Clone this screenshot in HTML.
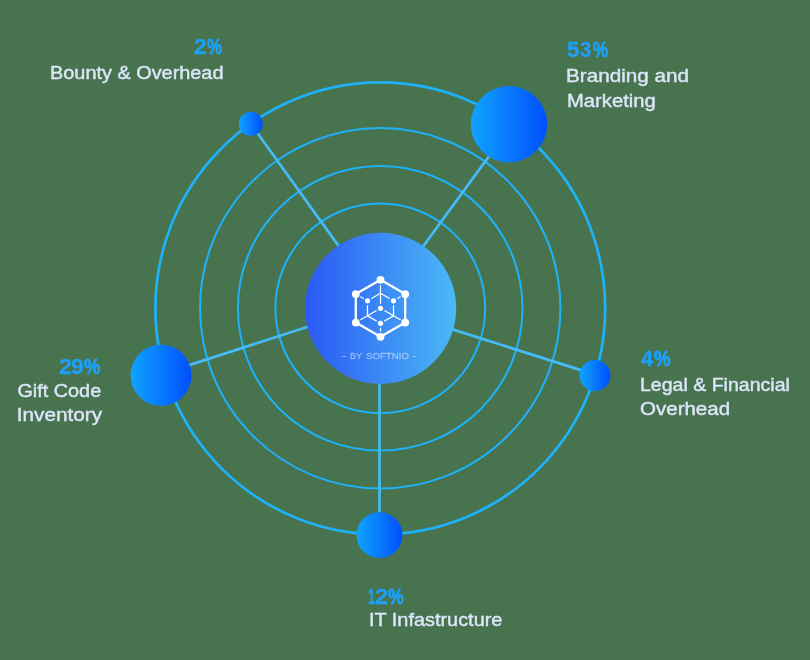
<!DOCTYPE html>
<html>
<head>
<meta charset="utf-8">
<style>
html,body{margin:0;padding:0;}
body{width:810px;height:660px;background:#48734f;position:relative;overflow:hidden;font-family:"Liberation Sans",sans-serif;}
svg{position:absolute;left:0;top:0;}
.pct{position:absolute;transform-origin:0 0;-webkit-text-stroke:0.3px #1ea0f7;font-weight:700;font-size:22px;line-height:24px;color:#1ea0f7;white-space:nowrap;}
.lbl{position:absolute;font-size:18.5px;-webkit-text-stroke:0.4px #dde6fa;line-height:24px;color:#dde6fa;white-space:nowrap;transform-origin:0 0;}
.rr{transform-origin:100% 0;}
.pc{-webkit-text-stroke:0.8px #1ea0f7;}
.r{text-align:right;}
.by{position:absolute;font-size:9.8px;font-weight:400;line-height:12px;color:rgba(255,255,255,0.36);-webkit-text-stroke:0.35px rgba(255,255,255,0.36);white-space:nowrap;transform-origin:0 0;}
</style>
</head>
<body>
<svg width="810" height="660" viewBox="0 0 810 660">
  <defs>
    <linearGradient id="gc" x1="0" y1="0" x2="1" y2="0">
      <stop offset="0" stop-color="#2b58f5"/>
      <stop offset="1" stop-color="#4bb9f5"/>
    </linearGradient>
    <linearGradient id="gb" x1="0" y1="0" x2="1" y2="0">
      <stop offset="0" stop-color="#10a4fe"/>
      <stop offset="1" stop-color="#004ffd"/>
    </linearGradient>
  </defs>
  <g fill="none" stroke="#1db2fa" stroke-width="2.05">
    <ellipse cx="380.3" cy="308.3" rx="224.9" ry="226" stroke-width="2.7"/>
    <circle cx="380.25" cy="308.3" r="180.2"/>
    <circle cx="380.2" cy="308.3" r="142.3"/>
    <circle cx="380.3" cy="308.3" r="104.9"/>
  </g>
  <g stroke="#45bcf8" stroke-width="2.7">
    <line x1="383.2" y1="308" x2="250.8" y2="123.8"/>
    <line x1="378.1" y1="308" x2="512.4" y2="124.2"/>
    <line x1="380" y1="306.4" x2="595" y2="374.6"/>
    <line x1="379.5" y1="308" x2="379.5" y2="535"/>
    <line x1="380" y1="303.5" x2="161" y2="374.2"/>
  </g>
  <circle cx="380.6" cy="308.3" r="75.6" fill="url(#gc)"/>
  <circle cx="250.8" cy="123.8" r="12" fill="url(#gb)"/>
  <circle cx="509" cy="124.2" r="38.2" fill="url(#gb)"/>
  <circle cx="595" cy="375.5" r="15.5" fill="url(#gb)"/>
  <circle cx="379.5" cy="535.1" r="23" fill="url(#gb)"/>
  <circle cx="161" cy="375.3" r="30.5" fill="url(#gb)"/>
  <!-- icon -->
  <defs>
    <mask id="im" maskUnits="userSpaceOnUse" x="340" y="270" width="80" height="80">
      <rect x="340" y="270" width="80" height="80" fill="#fff"/>
      <g fill="#000" transform="translate(380.5 308.3)">
        <circle cx="0" cy="-28.5" r="5.4"/>
        <circle cx="24.7" cy="-14.25" r="5.4"/>
        <circle cx="24.7" cy="14.25" r="5.4"/>
        <circle cx="0" cy="28.5" r="5.4"/>
        <circle cx="-24.7" cy="14.25" r="5.4"/>
        <circle cx="-24.7" cy="-14.25" r="5.4"/>
        <circle cx="-13" cy="-7.5" r="4.4"/>
        <circle cx="13" cy="-7.5" r="4.4"/>
        <circle cx="0" cy="0" r="4.6"/>
        <circle cx="0" cy="15" r="4.4"/>
      </g>
    </mask>
  </defs>
  <g transform="translate(380.5 308.3)" stroke="#fff" fill="none">
    <polygon points="0,-28.5 24.7,-14.25 24.7,14.25 0,28.5 -24.7,14.25 -24.7,-14.25" stroke-width="2.3" stroke-linejoin="round"/>
  </g>
  <g mask="url(#im)">
   <g transform="translate(380.5 308.3)" stroke="#fff" fill="none" stroke-width="1.25">
      <polygon points="0,-15 13,-7.5 13,7.5 0,15 -13,7.5 -13,-7.5"/>
      <line x1="0" y1="-28.5" x2="0" y2="0"/>
      <line x1="-24.7" y1="14.25" x2="0" y2="0"/>
      <line x1="24.7" y1="14.25" x2="0" y2="0"/>
      <line x1="-24.7" y1="-14.25" x2="-13" y2="-7.5"/>
      <line x1="24.7" y1="-14.25" x2="13" y2="-7.5"/>
      <line x1="0" y1="28.5" x2="0" y2="15"/>
   </g>
  </g>
  <g transform="translate(380.5 308.3)" fill="#fff">
      <circle cx="0" cy="-28.5" r="3.9"/>
      <circle cx="24.7" cy="-14.25" r="3.9"/>
      <circle cx="24.7" cy="14.25" r="3.9"/>
      <circle cx="0" cy="28.5" r="3.9"/>
      <circle cx="-24.7" cy="14.25" r="3.9"/>
      <circle cx="-24.7" cy="-14.25" r="3.9"/>
      <circle cx="-13" cy="-7.5" r="2.6"/>
      <circle cx="13" cy="-7.5" r="2.6"/>
      <circle cx="0" cy="0" r="2.6"/>
      <circle cx="0" cy="15" r="2.6"/>
  </g>
</svg>

<div class="by" style="left:341.5px;top:349.6px;transform:scaleX(1.3);">-</div>
<div class="by" style="left:350.1px;top:349.6px;transform:scaleX(0.92);">BY</div>
<div class="by" style="left:365.6px;top:349.6px;transform:scaleX(0.985);">SOFTNIO</div>
<div class="by" style="left:411.9px;top:349.6px;transform:scaleX(1.3);">-</div>

<div class="lbl rr" style="right:587px;top:61px;transform:scaleX(1.074);">Bounty &amp; Overhead</div>

<div class="lbl" style="left:566.3px;top:64px;transform:scaleX(1.118);">Branding and</div>
<div class="lbl" style="left:566.6px;top:88.5px;transform:scaleX(1.093);">Marketing</div>

<div class="lbl" style="left:639.9px;top:373px;transform:scaleX(1.056);">Legal &amp; Financial</div>
<div class="lbl" style="left:640px;top:397px;transform:scaleX(1.109);">Overhead</div>

<div class="lbl rr" style="right:708.5px;top:379px;transform:scaleX(1.071);">Gift Code</div>
<div class="lbl rr" style="right:708px;top:403px;transform:scaleX(1.122);">Inventory</div>

<div class="lbl" style="left:368.5px;top:608px;transform:scaleX(1.075);">IT Infastructure</div>
<div class="pct" style="left:193.9px;top:35px;transform:scaleX(1.036);">2</div>
<div class="pct pc" style="left:207.0px;top:35px;transform:scaleX(0.768);">%</div>
<div class="pct" style="left:566.8px;top:38px;transform:scaleX(1.009);">5</div>
<div class="pct" style="left:580.4px;top:38px;transform:scaleX(0.925);">3</div>
<div class="pct pc" style="left:592.6px;top:38px;transform:scaleX(0.779);">%</div>
<div class="pct" style="left:640.9px;top:347px;transform:scaleX(0.992);">4</div>
<div class="pct pc" style="left:654.0px;top:347px;transform:scaleX(0.847);">%</div>
<div class="pct" style="left:58.9px;top:355px;transform:scaleX(1.045);">2</div>
<div class="pct" style="left:71.0px;top:355px;transform:scaleX(1.036);">9</div>
<div class="pct pc" style="left:84.0px;top:355px;transform:scaleX(0.829);">%</div>
<div class="pct" style="left:368.3px;top:585px;transform:scaleX(0.564);">1</div>
<div class="pct" style="left:375.0px;top:585px;transform:scaleX(1.064);">2</div>
<div class="pct pc" style="left:388.3px;top:585px;transform:scaleX(0.805);">%</div>
</body>
</html>
